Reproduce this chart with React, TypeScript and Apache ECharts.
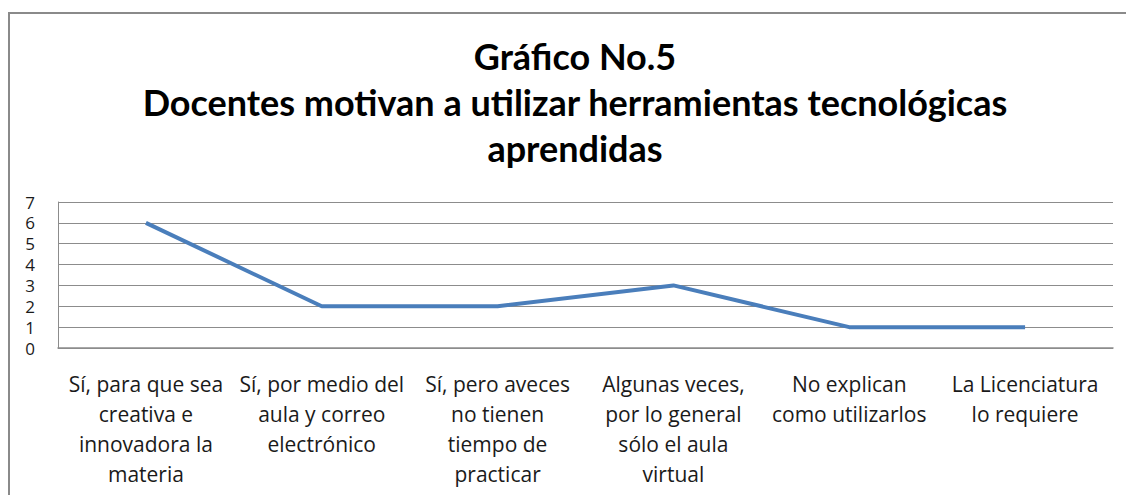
import React, { useEffect, useRef } from "react";
import * as echarts from "echarts";

const categories: string[] = [
  "Sí, para que sea\ncreativa e\ninnovadora la\nmateria",
  "Sí, por medio del\naula y correo\nelectrónico",
  "Sí, pero aveces\nno tienen\ntiempo de\npracticar",
  "Algunas veces,\npor lo general\nsólo el aula\nvirtual",
  "No explican\ncomo utilizarlos",
  "La Licenciatura\nlo requiere",
];
const values: number[] = [6, 2, 2, 3, 1, 1];
const titleLines: string[] = [
  "Gráfico No.5",
  "Docentes motivan a utilizar herramientas tecnológicas",
  "aprendidas",
];

const FONT = "Lato, 'Open Sans', sans-serif";
const LABEL_FONT = "'Open Sans', 'Noto Sans', sans-serif";

export default function App() {
  const ref = useRef<HTMLDivElement>(null);
  useEffect(() => {
    if (!ref.current) return;
    const chart = echarts.init(ref.current, undefined, { renderer: "svg" });
    chart.setOption({
      animation: false,
      backgroundColor: "#ffffff",
      graphic: [
        {
          type: "rect",
          shape: { x: 9, y: 13, width: 1300, height: 700 },
          style: { fill: "none", stroke: "#8a8a8a", lineWidth: 2 },
          silent: true,
        },
        ...titleLines.map((t, i) => ({
          type: "text",
          x: 575,
          y: 56 + i * 46,
          style: {
            text: t,
            fill: "#000000",
            font: `bold 36px ${FONT}`,
            textAlign: "center",
            textVerticalAlign: "middle",
          },
        })),
      ],
      grid: { left: 58, right: 13, top: 202, bottom: 147, containLabel: false },
      xAxis: {
        type: "category",
        data: categories,
        boundaryGap: true,
        axisLine: { show: true, lineStyle: { color: "#8c8c8c", width: 1.5 } },
        axisTick: { show: false },
        axisLabel: {
          interval: 0,
          margin: 21,
          color: "#1a1a1a",
          fontFamily: LABEL_FONT,
          fontSize: 21,
          lineHeight: 30,
          align: "center",
        },
        splitLine: { show: false },
      },
      yAxis: {
        type: "value",
        min: 0,
        max: 7,
        interval: 1,
        axisLine: { show: true, lineStyle: { color: "#8c8c8c", width: 1 } },
        axisTick: { show: false },
        axisLabel: {
          margin: 23,
          color: "#1a1a1a",
          fontFamily: LABEL_FONT,
          fontSize: 17,
          lineHeight: 17,
        },
        splitLine: { show: true, lineStyle: { color: "#8c8c8c", width: 1 } },
      },
      series: [
        {
          type: "line",
          data: values,
          showSymbol: false,
          symbol: "none",
          lineStyle: { color: "#4a7ebb", width: 4 },
        },
      ],
    });
    return () => chart.dispose();
  }, []);
  return (
    <div
      ref={ref}
      style={{ position: "fixed", left: 0, top: 0, width: 1126, height: 495 }}
    />
  );
}
